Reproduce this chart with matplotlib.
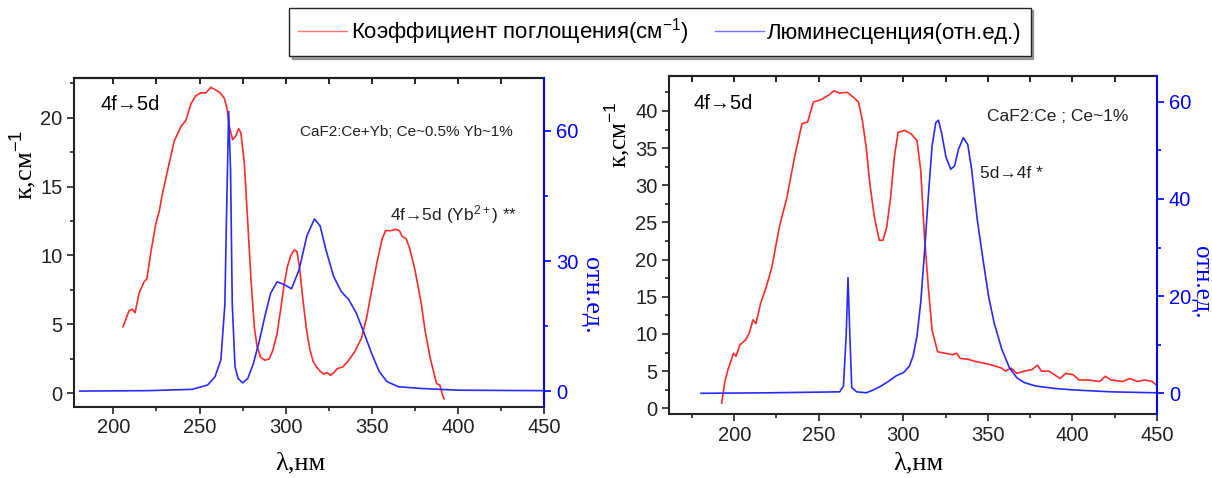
import numpy as np
import matplotlib
matplotlib.use("Agg")
import matplotlib.pyplot as plt
from matplotlib.ticker import MultipleLocator

plt.rcParams['font.family'] = ['Liberation Sans', 'DejaVu Sans']
plt.rcParams['mathtext.fontset'] = 'custom'
plt.rcParams['mathtext.rm'] = 'Liberation Sans'
plt.rcParams['mathtext.it'] = 'Liberation Sans'

# CaF2:Ce+Yb - absorption (left axis)
wl_abs1 = [205.6, 209.1, 211, 212.6, 214.9, 217.8, 219.4, 221.7, 224.6, 226.6, 228.5, 232.4,
           235.3, 239.2, 242.1, 245, 247.9, 250.8, 253.7, 256.6, 259.5, 262, 264.4, 265.9,
           267.3, 269.2, 271.2, 272.7, 274, 276, 277.9, 279.9, 281.8, 283.4, 285.5, 288,
           290.5, 292.5, 295, 297, 299, 301, 303, 305, 306.5, 308, 310, 312, 314, 316, 318,
           320, 322, 324, 326, 328, 330, 333, 336, 340, 344, 347, 350, 353, 356, 358, 361,
           364, 366, 367.6, 370, 372, 375, 378.7, 381, 384, 387.6, 389.5, 391, 392]
k_abs1 = [4.83, 6.0, 6.1, 5.85, 7.26, 8.1, 8.3, 10.2, 12.3, 13.2, 14.5, 16.7,
          18.3, 19.35, 19.8, 21.0, 21.6, 21.8, 21.8, 22.2, 22.0, 21.8, 21.4, 20.7,
          19.35, 18.4, 18.7, 19.2, 18.9, 16.7, 12.6, 8.2, 4.8, 3.4, 2.6, 2.4,
          2.5, 3.1, 4.3, 6.0, 7.8, 9.2, 10.0, 10.4, 10.3, 9.2, 6.8, 4.7, 3.2, 2.3, 1.9,
          1.6, 1.4, 1.5, 1.3, 1.5, 1.8, 1.9, 2.3, 3.0, 4.0, 5.5, 7.5, 9.5, 11.2, 11.8, 11.8,
          11.9, 11.8, 11.4, 11.2, 10.5, 9.0, 6.5, 4.5, 2.5, 0.7, 0.6, -0.1, -0.4]

# CaF2:Ce+Yb - luminescence (right axis)
wl_lum1 = [180.5, 200, 220, 245.8, 254.7, 259, 262.4, 264.7, 265.8, 266.9, 268, 269,
           270.6, 272.4, 275, 278, 281.3, 284.6, 287.9, 291.2, 295, 299, 303.4, 307.8,
           312.3, 316.7, 320, 323.3, 327.8, 332.2, 336.6, 341, 345.5, 349.9, 354.3, 358.8,
           365.4, 378.7, 400.8, 425, 449.5]
i_lum1 = [0.0, 0.05, 0.1, 0.4, 1.4, 3.3, 7.2, 20, 43, 64.5, 51, 20,
          5.6, 2.9, 1.9, 2.9, 6.4, 11.4, 17.2, 22.5, 25.2, 24.6, 23.6, 28,
          35.8, 39.7, 38.1, 32.7, 26.5, 23, 21.1, 18, 13.4, 8.7, 4.5, 2.2,
          1.0, 0.6, 0.2, 0.15, 0.1]

# CaF2:Ce - absorption (left axis)
wl_abs2 = [192.6, 194.4, 196.2, 197.5, 199.6, 201.1, 203.3, 206.7, 208.9, 211.1, 212.9, 215.6,
           218.9, 222.3, 226.7, 231.2, 235.7, 240.1, 243.4, 246.8, 251.2, 255.7, 259, 262.4,
           266.8, 270.2, 273.5, 275.8, 278, 280.2, 282.9, 285.8, 288, 290.2, 292.5, 294.7,
           296.9, 300.7, 304.7, 308.1, 310.3, 312.5, 314.8, 317, 320.3, 324.8, 329.2, 331.5,
           333.7, 338.1, 342.6, 347.1, 352.6, 358.2, 360.4, 363.8, 367.1, 371.6, 376, 379.4,
           381.6, 386.1, 389.4, 392.7, 396, 400.5, 403.9, 409.4, 416.1, 419.5, 422.9, 429.5,
           434, 438.4, 442.9, 447.3, 449.8]
k_abs2 = [0.7, 3.5, 5.1, 6.0, 7.4, 7.0, 8.5, 9.2, 10.1, 11.9, 11.4, 14.1,
          16.3, 19.0, 24.4, 28.4, 33.8, 38.3, 38.5, 41.2, 41.5, 42.1, 42.7, 42.4,
          42.5, 41.9, 41.2, 38.7, 35.2, 30.2, 25.7, 22.6, 22.6, 24.4, 28.4, 33.8,
          37.1, 37.4, 36.9, 36.0, 32.0, 23.1, 16.3, 10.5, 7.6, 7.4, 7.2, 7.4,
          6.7, 6.6, 6.3, 6.1, 5.8, 5.4, 5.0, 5.4, 4.7, 5.0, 5.2, 5.8,
          5.0, 5.0, 4.5, 4.0, 4.7, 4.5, 3.8, 3.8, 3.6, 4.3, 3.8, 3.6,
          4.0, 3.6, 3.8, 3.6, 3.1]

# CaF2:Ce - luminescence (right axis)
wl_lum2 = [180.4, 220, 262.4, 264.6, 266.2, 267.3, 268.4, 269.5, 272.4, 278, 282.4, 286.9,
           291.4, 295.8, 300.3, 303.6, 305.8, 308.1, 310.3, 312.5, 314.8, 317, 319.2, 320.8,
           322.6, 325.3, 328.1, 330.3, 332.6, 335.5, 338.1, 340.4, 343.7, 347.1, 350.4, 353.7,
           358.2, 362.7, 367.1, 371.6, 378.3, 389.4, 400.5, 422.9, 449.6]
i_lum2 = [0.0, 0.1, 0.3, 1.5, 11.8, 23.8, 11.8, 1.2, 0.3, 0.1, 0.7, 1.5,
          2.5, 3.6, 4.3, 5.6, 7.7, 11.8, 18.7, 28.9, 40.6, 50.9, 55.7, 56.2,
          53.6, 48.5, 46.1, 46.8, 50.2, 52.6, 51.2, 46.1, 35.8, 27.6, 20.0, 14.5,
          9.1, 5.3, 3.2, 2.2, 1.5, 1.0, 0.7, 0.3, 0.1]

red = '#ff2a2a'
blue = '#2a2aff'
serif = ['Liberation Serif', 'DejaVu Serif']

fig = plt.figure(figsize=(12.12, 4.78), dpi=100)
ax1 = fig.add_axes([0.0613, 0.1492, 0.3876, 0.6883])
ax2 = fig.add_axes([0.5522, 0.1339, 0.4024, 0.7071])


def style(ax, axr, ylim, ylim_r, xlim, ymaj, ymin, rmaj, rmin):
    ax.set_xlim(*xlim)
    ax.set_ylim(*ylim)
    axr.set_ylim(*ylim_r)
    ax.xaxis.set_major_locator(MultipleLocator(50))
    ax.xaxis.set_minor_locator(MultipleLocator(25))
    ax.yaxis.set_major_locator(MultipleLocator(ymaj))
    ax.yaxis.set_minor_locator(MultipleLocator(ymin))
    ax.tick_params(axis='both', which='both', direction='out', labelsize=14.5, colors='#222222')
    ax.tick_params(which='major', length=5, width=1.2)
    ax.tick_params(which='minor', length=3, width=1.2)
    top = ax.secondary_xaxis('top')
    top.xaxis.set_major_locator(MultipleLocator(50))
    top.xaxis.set_minor_locator(MultipleLocator(25))
    top.tick_params(which='both', direction='in', labeltop=False, width=1.2, length=4)
    top.spines['top'].set_linewidth(1.5)
    for s in ['left', 'bottom', 'top']:
        ax.spines[s].set_linewidth(1.5)
        ax.spines[s].set_color('#222222')
    ax.spines['right'].set_visible(False)
    axr.spines['right'].set_color('blue')
    axr.spines['right'].set_linewidth(1.5)
    for s in ['left', 'bottom', 'top']:
        axr.spines[s].set_visible(False)
    axr.yaxis.set_major_locator(MultipleLocator(rmaj))
    axr.yaxis.set_minor_locator(MultipleLocator(rmin))
    axr.tick_params(axis='y', which='both', direction='out', colors='blue', labelsize=14.5, width=1.2)
    axr.tick_params(axis='y', which='major', length=5)
    axr.tick_params(axis='y', which='minor', length=3)


ax1r = ax1.twinx()
ax1.plot(wl_abs1, k_abs1, color=red, lw=1.2)
ax1r.plot(wl_lum1, i_lum1, color=blue, lw=1.2)
style(ax1, ax1r, (-0.97, 22.9), (-3.6, 72.3), (177.3, 450), 5, 2.5, 30, 15)

ax2r = ax2.twinx()
ax2.plot(wl_abs2, k_abs2, color=red, lw=1.2)
ax2r.plot(wl_lum2, i_lum2, color=blue, lw=1.2)
style(ax2, ax2r, (-0.77, 44.7), (-4.26, 65.3), (161.6, 450), 5, 2.5, 20, 10)

# annotations
ax1.text(0.055, 0.917, '4f→5d', transform=ax1.transAxes, fontsize=14.5, va='center')
ax1.text(0.48, 0.835, 'CaF2:Ce+Yb; Ce~0.5% Yb~1%', transform=ax1.transAxes,
         fontsize=11, va='center', color='#222222')
ax1.text(0.672, 0.585, '4f→5d (Yb$^{2+}$) **', transform=ax1.transAxes,
         fontsize=12.5, va='center', color='#222222')
ax2.text(0.049, 0.92, '4f→5d', transform=ax2.transAxes, fontsize=14.5, va='center')
ax2.text(0.651, 0.879, 'CaF2:Ce ; Ce~1%', transform=ax2.transAxes,
         fontsize=12.5, va='center', color='#222222')
ax2.text(0.637, 0.713, '5d→4f *', transform=ax2.transAxes,
         fontsize=12.5, va='center', color='#222222')

# axis labels
fig.text(300 / 1212, 1 - 463 / 478, 'λ,нм', family=serif, fontsize=19, ha='center', va='center')
fig.text(918 / 1212, 1 - 463 / 478, 'λ,нм', family=serif, fontsize=19, ha='center', va='center')
fig.text(24 / 1212, 1 - 165 / 478, 'к,см$^{-1}$', family=serif, fontsize=19,
         rotation=90, ha='center', va='center')
fig.text(617 / 1212, 1 - 135 / 478, 'к,см$^{-1}$', family=serif, fontsize=18,
         rotation=90, ha='center', va='center')
fig.text(591 / 1212, 1 - 295 / 478, 'отн.ед.', family=serif, fontsize=19, color='blue',
         rotation=270, ha='center', va='center')
fig.text(1201 / 1212, 1 - 282 / 478, 'отн.ед.', family=serif, fontsize=18, color='blue',
         rotation=270, ha='center', va='center')

# legend
h1, = ax1.plot([], [], color='#ff7070', lw=1.0)
h2, = ax1.plot([], [], color='#7070ff', lw=1.0)
fig.legend([h1, h2], ['Коэффициент поглощения(см$^{-1}$)', 'Люминесценция(отн.ед.)'],
           loc='center', bbox_to_anchor=(660 / 1212, 1 - 32 / 478), ncol=2, fontsize=16,
           frameon=True, fancybox=False, shadow=True, edgecolor='#222222',
           handlelength=2.2, handletextpad=0.15, columnspacing=1.2, borderpad=0.4)

fig.savefig('out.png', dpi=100, facecolor='white')
